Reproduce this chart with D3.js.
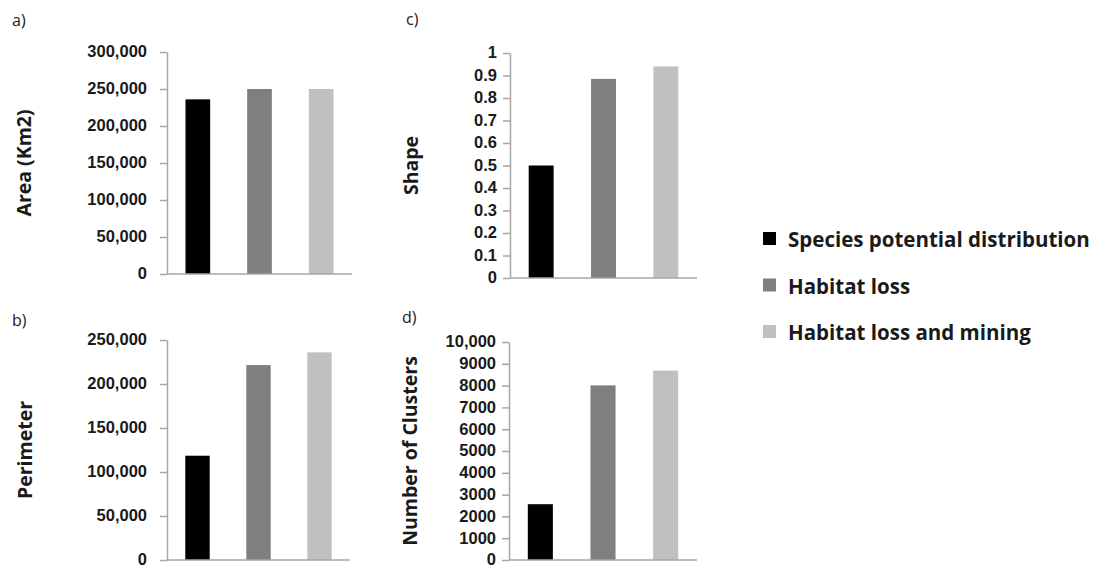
<!DOCTYPE html>
<html>
<head>
<meta charset="utf-8">
<script src="https://cdn.jsdelivr.net/npm/d3@7"></script>
<style>
  body { margin: 0; background: #fff; }
  svg { display: block; font-family: "Open Sans", "Noto Sans", sans-serif; }
</style>
</head>
<body>
<svg id="chart" width="1094" height="570"></svg>
<script>
// categories (one bar per scenario, same in every panel)
const scenarios = ["Species potential distribution", "Habitat loss", "Habitat loss and mining"];

// values
const areaValues = [236000, 250000, 250000];
const perimeterValues = [118500, 221500, 236000];
const shapeValues = [0.5, 0.885, 0.94];
const clusterValues = [2560, 8010, 8690];

// tick values
const areaTicks = [0, 50000, 100000, 150000, 200000, 250000, 300000];
const perimeterTicks = [0, 50000, 100000, 150000, 200000, 250000];
const shapeTicks = [0, 0.1, 0.2, 0.3, 0.4, 0.5, 0.6, 0.7, 0.8, 0.9, 1];
const clusterTicks = [0, 1000, 2000, 3000, 4000, 5000, 6000, 7000, 8000, 9000, 10000];

const barColors = ["#000000", "#7f7f7f", "#c0c0c0"];
const axisColor = "#a6a6a6";
const textColor = "#1a1a1a";

const svg = d3.select("#chart");

const comma = d3.format(",");
const panels = [
  { tag: "a)", tagX: 12, tagY: 26, title: "Area (Km2)", titleX: 24, values: areaValues, ticks: areaTicks,
    max: 300000, fmt: comma, x0: 167, x1: 352, yTop: 52, yZero: 274, pad: 13 },
  { tag: "b)", tagX: 12, tagY: 326, title: "Perimeter", titleX: 25, values: perimeterValues, ticks: perimeterTicks,
    max: 250000, fmt: comma, x0: 167, x1: 350, yTop: 340, yZero: 560, pad: 13 },
  { tag: "c)", tagX: 406, tagY: 25, title: "Shape", titleX: 411, values: shapeValues, ticks: shapeTicks,
    max: 1, fmt: d => d3.format("~g")(d), x0: 510, x1: 697, yTop: 53, yZero: 278, pad: 6 },
  { tag: "d)", tagX: 402, tagY: 323, title: "Number of Clusters", titleX: 410, values: clusterValues, ticks: clusterTicks,
    max: 10000, fmt: d => d >= 10000 ? comma(d) : String(d), x0: 509, x1: 697, yTop: 342, yZero: 560, pad: 6 }
];

panels.forEach(p => {
  const g = svg.append("g");

  const x = d3.scaleBand()
    .domain(scenarios)
    .range([p.x0, p.x1])
    .paddingInner(0.6)
    .paddingOuter(0.3);

  const y = d3.scaleLinear()
    .domain([0, p.max])
    .range([p.yZero, p.yTop]);

  // bars
  g.selectAll("rect.bar")
    .data(p.values)
    .join("rect")
    .attr("class", "bar")
    .attr("x", (d, i) => x(scenarios[i]))
    .attr("y", d => y(d))
    .attr("width", x.bandwidth())
    .attr("height", d => y(0) - y(d))
    .attr("fill", (d, i) => barColors[i]);

  // y axis
  const yAxis = g.append("g")
    .attr("transform", `translate(${p.x0},0)`)
    .call(d3.axisLeft(y).tickValues(p.ticks).tickFormat(p.fmt).tickSize(7).tickPadding(p.pad).tickSizeOuter(0));
  yAxis.select(".domain").attr("stroke", axisColor).attr("stroke-width", 1.5);
  yAxis.selectAll(".tick line").attr("stroke", axisColor).attr("stroke-width", 1.5);
  yAxis.selectAll(".tick text")
    .attr("fill", textColor)
    .attr("dy", "0.3em")
    .style("font-size", "16.5px")
    .style("font-weight", "700");

  // x baseline
  g.append("line")
    .attr("x1", p.x0).attr("x2", p.x1)
    .attr("y1", y(0)).attr("y2", y(0))
    .attr("stroke", axisColor)
    .attr("stroke-width", 1.5);

  // axis title
  g.append("text")
    .attr("transform", `translate(${p.titleX},${(p.yTop + p.yZero) / 2}) rotate(-90)`)
    .attr("text-anchor", "middle")
    .attr("dy", "0.35em")
    .attr("fill", textColor)
    .style("font-size", "19.5px")
    .style("font-weight", "700")
    .text(p.title);

  // panel letter
  g.append("text")
    .attr("x", p.tagX).attr("y", p.tagY)
    .attr("fill", textColor)
    .style("font-size", "16px")
    .text(p.tag);
});

// legend
const legend = svg.append("g").attr("transform", "translate(763,232)");
scenarios.forEach((s, i) => {
  legend.append("rect")
    .attr("x", 0).attr("y", i * 46.5)
    .attr("width", 13).attr("height", 13)
    .attr("fill", barColors[i]);
  legend.append("text")
    .attr("x", 25).attr("y", i * 46.5 + 15)
    .attr("fill", textColor)
    .style("font-size", "20.5px")
    .style("font-weight", "700")
    .text(s);
});
</script>
</body>
</html>
